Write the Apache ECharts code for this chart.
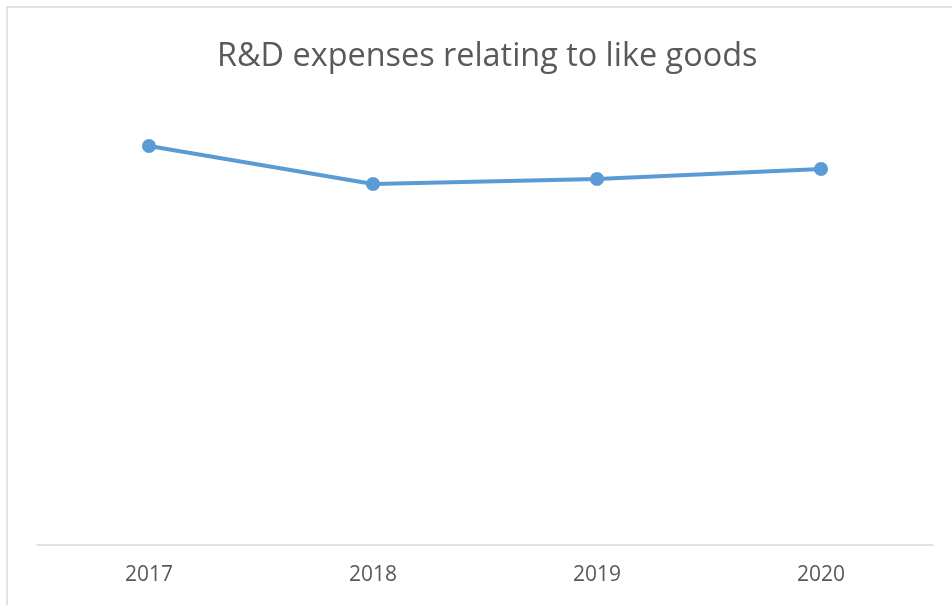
<!DOCTYPE html>
<html>
<head>
<meta charset="utf-8">
<style>
  html, body { margin: 0; padding: 0; background: #fff; }
  #chart { width: 952px; height: 605px; }
</style>
<script src="https://cdn.jsdelivr.net/npm/echarts@6/dist/echarts.min.js"></script>
</head>
<body>
<div id="chart"></div>
<script>
// Chart data
const years = ['2017', '2018', '2019', '2020'];
const rdExpenses = [3.99, 3.61, 3.66, 3.76];
const chartTitle = 'R&D expenses relating to like goods';

const chart = echarts.init(document.getElementById('chart'), null, { renderer: 'canvas' });

chart.setOption({
  animation: false,
  backgroundColor: '#ffffff',
  title: {
    text: chartTitle,
    left: 212,
    top: 36,
    textStyle: {
      fontFamily: 'Open Sans',
      fontSize: 32.4,
      fontWeight: 'normal',
      color: '#595959'
    }
  },
  // thin outer frame of the chart area
  graphic: [{
    type: 'rect',
    silent: true,
    shape: { x: 7, y: 7, width: 980, height: 640 },
    style: { fill: 'none', stroke: '#d9d9d9', lineWidth: 1.5 }
  }],
  grid: { left: 37, right: 19, top: 95, bottom: 60 },
  xAxis: {
    type: 'category',
    data: years,
    boundaryGap: true,
    axisLine: { show: true, lineStyle: { color: '#d9d9d9', width: 1.5 } },
    axisTick: { show: false },
    axisLabel: {
      margin: 20,
      fontFamily: 'Open Sans',
      fontSize: 21,
      color: '#595959'
    }
  },
  yAxis: {
    type: 'value',
    min: 0,
    max: 4.5,
    show: false,
    splitLine: { show: false }
  },
  series: [{
    type: 'line',
    data: rdExpenses,
    symbol: 'circle',
    symbolSize: 14,
    lineStyle: { color: '#5b9bd5', width: 4 },
    itemStyle: { color: '#5b9bd5' }
  }]
});
</script>
</body>
</html>
